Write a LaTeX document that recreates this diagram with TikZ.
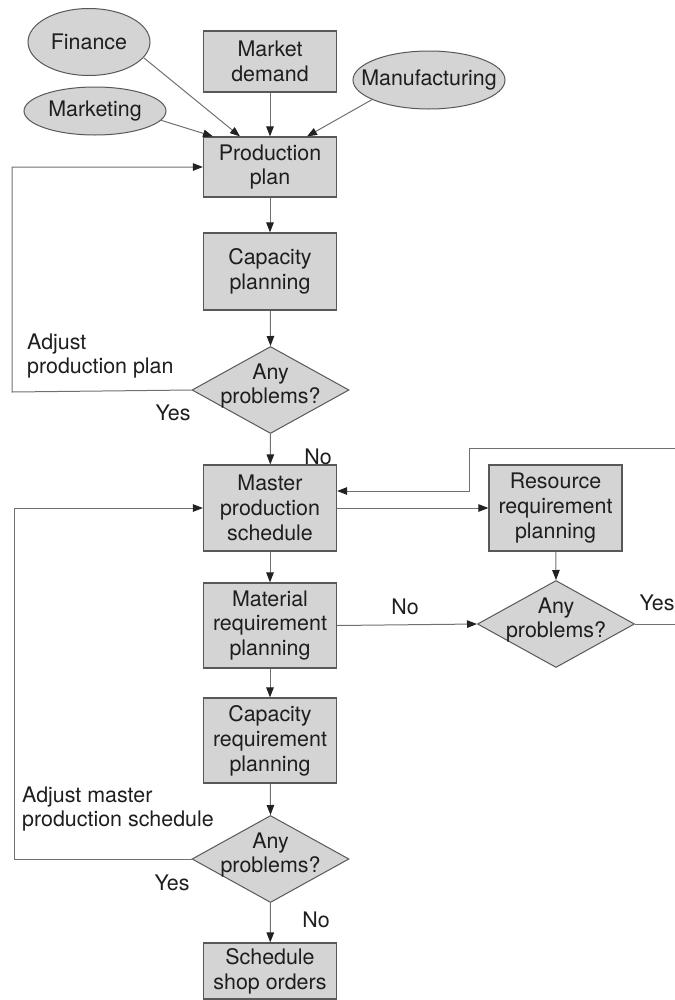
\documentclass[tikz,border=0pt]{standalone}
\usepackage{fontspec}
\setmainfont{TeX Gyre Heros}
\usepackage{tikz}
\usetikzlibrary{shapes.geometric, arrows.meta}
\definecolor{boxFill}{RGB}{212, 212, 212}
\definecolor{boxLine}{RGB}{88, 88, 88}
\definecolor{flowLine}{RGB}{112, 112, 112}
\definecolor{tipColor}{RGB}{34, 34, 34}
\definecolor{textColor}{RGB}{30, 30, 30}
\tikzset{
    plan_box/.style={
        rectangle,
        draw=boxLine,
        line width=1.2bp,
        fill=boxFill,
        text=textColor,
        align=center,
        minimum width=133bp,
        inner sep=0pt
    },
    input_oval/.style={
        ellipse,
        draw=boxLine,
        line width=1bp,
        fill=boxFill,
        text=textColor,
        inner sep=0pt
    },
    check_diamond/.style={
        diamond,
        draw=boxLine,
        line width=1bp,
        fill=boxFill,
        inner sep=0pt,
        minimum width=157bp,
        minimum height=87bp
    },
    check_text/.style={
        align=center,
        text=textColor,
        inner sep=0pt,
        yshift=4bp
    },
    flow_edge/.style={
        -{Triangle[length=10bp, width=7.5bp, color=tipColor]},
        draw=flowLine,
        line width=1bp
    },
    flow_note/.style={
        text=textColor,
        inner sep=0pt
    }
}

\begin{document}
\begin{tikzpicture}[x=1bp, y=-1bp, font=\fontsize{21.5}{25}\selectfont]
    \useasboundingbox (0,0) rectangle (675,1000);

    % inputs feeding the production plan
    \node[input_oval, minimum width=122bp, minimum height=67bp] (finance) at (89,42) {\makebox[0pt]{Finance}};
    \node[input_oval, minimum width=142bp, minimum height=48bp] (marketing) at (95,111) {\makebox[0pt]{Marketing}};
    \node[input_oval, minimum width=152bp, minimum height=58bp] (manufacturing) at (429,80) {\makebox[0pt]{Manufacturing}};
    \node[plan_box, minimum height=61bp] (demand) at (270,61.5) {Market\\demand};

    % main column
    \node[plan_box, minimum height=60bp] (prod_plan) at (270,167) {Production\\plan};
    \node[plan_box, minimum height=77bp] (cap_plan) at (270,271.5) {Capacity\\planning};
    \node[check_diamond, label={[check_text]center:{Any\\problems?}}] (chk_plan) at (270.5,390) {};
    \node[plan_box, minimum height=86bp] (mps) at (270,508) {Master\\production\\schedule};
    \node[plan_box, minimum height=85bp] (mrp) at (270,625.5) {Material\\requirement\\planning};
    \node[plan_box, minimum height=85bp] (crp) at (270,740.5) {Capacity\\requirement\\planning};
    \node[check_diamond, label={[check_text]center:{Any\\problems?}}] (chk_crp) at (270.5,859) {};
    \node[plan_box, minimum height=56bp] (shop) at (270,971) {Schedule\\shop orders};

    % resource branch
    \node[plan_box, minimum height=86bp] (rrp) at (555.5,508) {Resource\\requirement\\planning};
    \node[check_diamond, label={[check_text]center:{Any\\problems?}}] (chk_rrp) at (556,624) {};

    % corner points of the feedback loops
    \coordinate (loop_plan) at (12,392);
    \coordinate (loop_mps) at (14,859);
    \coordinate (loop_rrp) at (469,448);

    % arrows into the production plan
    \draw[flow_edge] (finance.-16) -- ([xshift=-30bp]prod_plan.north);
    \draw[flow_edge] (marketing.-8) -- ([xshift=-57bp]prod_plan.north);
    \draw[flow_edge] (demand.south) -- (prod_plan.north);
    \draw[flow_edge] (manufacturing.199) -- ([xshift=37bp]prod_plan.north);

    % down the main column
    \draw[flow_edge] (prod_plan) -- (cap_plan);
    \draw[flow_edge] (cap_plan) -- (chk_plan.north);
    \draw[flow_edge] (chk_plan.south) -- (mps);
    \draw[flow_edge] (mps) -- (mrp);
    \draw[flow_edge] (mrp) -- (crp);
    \draw[flow_edge] (crp) -- (chk_crp.north);
    \draw[flow_edge] (chk_crp.south) -- (shop);

    % resource branch and its return path
    \draw[flow_edge] (mps) -- (rrp);
    \draw[flow_edge] (rrp) -- (chk_rrp.north);
    \draw[flow_edge] (mrp.east) -- (chk_rrp.west);
    \draw[flow_edge] (chk_rrp.east) -- ++(60,0) |- (loop_rrp) |- ([yshift=17bp]mps.east);

    % feedback loops on the left
    \draw[flow_edge] (chk_plan.west) -- (loop_plan) |- (prod_plan.west);
    \draw[flow_edge] (chk_crp.west) -- (loop_mps) |- (mps.west);

    % loop notes
    \node[flow_note, anchor=west, align=left] (adj_plan) at (27,356) {Adjust\\production plan};
    \node[flow_note, anchor=west, align=left] (adj_mps) at (22,809) {Adjust master\\production schedule};
    \node[flow_note] (yes_plan) at (173,413) {Yes};
    \node[flow_note] (no_plan) at (318,457) {No};
    \node[flow_note] (no_mrp) at (405,607) {No};
    \node[flow_note] (yes_rrp) at (657,603) {Yes};
    \node[flow_note] (yes_crp) at (172,883) {Yes};
    \node[flow_note] (no_crp) at (316,920) {No};
\end{tikzpicture}
\end{document}
